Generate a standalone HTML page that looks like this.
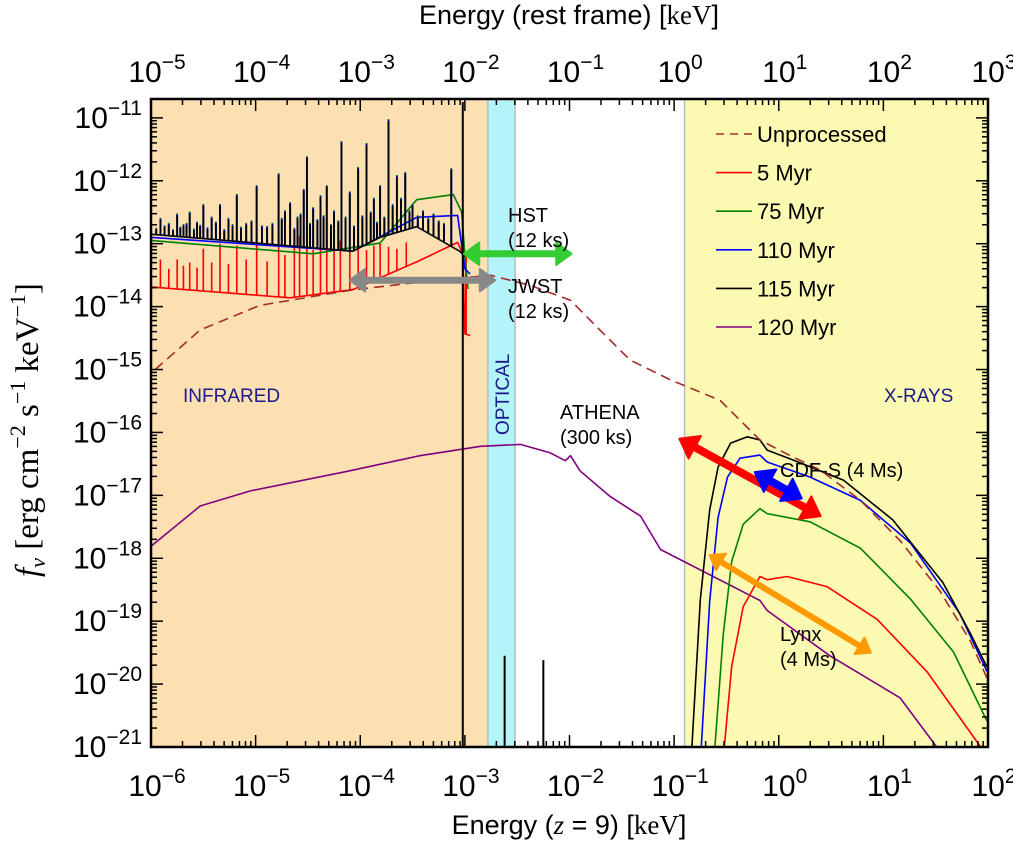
<!DOCTYPE html>
<html><head><meta charset="utf-8">
<style>
html,body{margin:0;padding:0;background:#fff;}
svg{display:block;font-family:"Liberation Sans","DejaVu Sans",sans-serif;}
</style></head>
<body>
<svg id="chart" width="1013" height="844" viewBox="0 0 1013 844" xmlns="http://www.w3.org/2000/svg">
<g id="bg"></g>
<g id="curves"></g>
<g id="annots"></g>
<g id="axes"></g>
<g id="legend"></g>
</svg>
<script>
// ---- data (log10 energy [keV, z=9], log10 f_nu) ----
const unprocE = [-5.96,-5.53,-4.96,-4.10,-3.43,-2.76,-2.38,-1.99,-1.71,-1.42,-1.04,-0.56,-0.18,0.11,0.40,0.78,1.16,1.54,1.83,2.0];
const unprocF = [-15.0,-14.37,-13.98,-13.74,-13.61,-13.50,-13.66,-13.90,-14.37,-14.85,-15.16,-15.49,-16.12,-16.37,-16.60,-17.08,-17.72,-18.52,-19.31,-19.94];

const m120E = [-6,-5.53,-5.05,-4.10,-3.43,-2.85,-2.47,-2.19,-2.04,-1.99,-1.90,-1.61,-1.32,-1.13,-0.18,-0.11,0.49,1.16,1.51];
const m120F = [-17.81,-17.17,-16.93,-16.61,-16.37,-16.22,-16.19,-16.32,-16.45,-16.37,-16.61,-17.02,-17.33,-17.86,-18.67,-18.83,-19.55,-20.22,-21];

const m115XE = [-0.83,-0.75,-0.66,-0.58,-0.46,-0.30,-0.18,-0.11,0.14,0.62,1.09,1.57,1.83,1.99];
const m115XF = [-21,-18.66,-17.23,-16.55,-16.17,-16.07,-16.12,-16.28,-16.44,-16.76,-17.39,-18.39,-19.19,-19.73];
const m110XE = [-0.74,-0.66,-0.58,-0.49,-0.37,-0.18,-0.11,0.30,0.78,1.26,1.73,1.99];
const m110XF = [-21,-18.68,-17.35,-16.71,-16.41,-16.36,-16.47,-16.71,-17.08,-17.76,-18.88,-19.80];
const m75XE = [-0.61,-0.53,-0.45,-0.34,-0.18,-0.11,0.30,0.78,1.26,1.67,1.99];
const m75XF = [-21,-19.20,-18.05,-17.46,-17.21,-17.29,-17.42,-17.84,-18.65,-19.49,-20.59];
const m5XE = [-0.52,-0.45,-0.34,-0.18,-0.11,0.08,0.46,0.94,1.42,1.93];
const m5XF = [-21,-19.72,-18.77,-18.29,-18.34,-18.29,-18.45,-18.97,-19.81,-21];

// infrared / optical continua
const blackIRE = [-5.99,-4.07,-3.81,-3.46,-3.05,-3.00];
const blackIRF = [-12.85,-13.12,-12.90,-12.73,-13.12,-13.20];
const blueIRE = [-5.99,-4.07,-3.46,-3.07,-3.00,-2.95];
const blueIRF = [-12.90,-13.12,-12.58,-12.55,-13.40,-13.48];
const greenIRE = [-5.99,-4.45,-3.81,-3.46,-3.11,-3.03,-3.00,-2.97];
const greenIRF = [-12.95,-13.16,-12.99,-12.30,-12.22,-12.50,-13.19,-13.72];
const redIRE = [-5.99,-4.67,-4.07,-3.46,-3.07,-3.02,-3.00,-2.95];
const redIRF = [-13.69,-13.86,-13.73,-13.29,-12.98,-13.16,-14.43,-14.46];

// emission line peaks
const lineE = [-5.91,-5.83,-5.75,-5.69,-5.63,-5.56,-5.50,-5.42,-5.34,-5.26,-5.18,-5.09,-4.99,-4.89,-4.78,-4.72,-4.67,-4.60,-4.54,-4.51,-4.45,-4.38,-4.32,-4.25,-4.18,-4.10,-4.02,-3.94,-3.87,-3.81,-3.73,-3.65,-3.57,-3.50,-3.40,-3.30,-3.13,
 -5.95,-5.87,-5.79,-5.72,-5.66,-5.59,-5.53,-5.46,-5.38,-5.30,-5.22,-5.14,-5.04,-4.94,-4.84,-4.75,-4.63,-4.57,-4.48,-4.41,-4.35,-4.28,-4.21,-4.14,-4.06,-3.98,-3.90,-3.84,-3.77,-3.69,-3.61,-3.53,-3.45,-3.35,-3.25,-3.20];
const lineF = [-12.62,-12.70,-12.55,-12.72,-12.52,-12.68,-12.40,-12.60,-12.40,-12.62,-12.24,-12.70,-12.10,-12.75,-11.91,-12.50,-12.37,-12.60,-12.16,-11.64,-12.45,-12.26,-12.10,-12.50,-11.40,-12.20,-11.81,-11.43,-12.30,-12.10,-11.05,-11.94,-11.89,-12.40,-12.50,-12.55,-11.83,
 -12.78,-12.74,-12.80,-12.76,-12.70,-12.79,-12.73,-12.77,-12.68,-12.80,-12.72,-12.76,-12.66,-12.74,-12.70,-12.62,-12.78,-12.55,-12.70,-12.64,-12.58,-12.72,-12.66,-12.60,-12.74,-12.58,-12.52,-12.68,-12.60,-12.40,-12.30,-12.50,-12.58,-12.62,-12.66,-12.70];
const redLineE = [-5.91,-5.75,-5.63,-5.50,-5.34,-5.18,-4.99,-4.78,-4.58,-4.51,-4.32,-4.19,-3.87,-3.65,-3.56,
 -5.83,-5.69,-5.56,-5.42,-5.26,-5.09,-4.89,-4.72,-4.63,-4.45,-4.38,-4.25,-4.10,-4.02,-3.94,-3.81,-3.73];
const redLineF = [-13.25,-13.25,-13.30,-13.08,-13.00,-13.03,-12.87,-12.92,-12.87,-12.81,-12.87,-12.95,-13.03,-13.08,-12.98,
 -13.40,-13.35,-13.38,-13.30,-13.32,-13.25,-13.28,-13.18,-13.05,-13.10,-13.00,-13.08,-13.12,-13.05,-13.10,-13.00,-13.05];

const xTicksBottom = [-6,-5,-4,-3,-2,-1,0,1,2];
const xTicksTop = [-5,-4,-3,-2,-1,0,1,2,3];
const yTicks = [-11,-12,-13,-14,-15,-16,-17,-18,-19,-20,-21];

const legendNames = ["Unprocessed","5 Myr","75 Myr","110 Myr","115 Myr","120 Myr"];
const legendColors = ["#a52a2a","#ff0000","#008000","#0000ff","#000000","#800080"];

// ---- scales ----
const L=151,R=988,T=99,B=747;
const X0=-6,X1=2,Y0=-21,Y1=-10.70;
function sx(v){return L+(v-X0)/(X1-X0)*(R-L);}
function sy(v){return B-(v-Y0)/(Y1-Y0)*(B-T);}
const NS="http://www.w3.org/2000/svg";
function mk(tag,attrs,parent){const e=document.createElementNS(NS,tag);for(const k in attrs)e.setAttribute(k,attrs[k]);parent.appendChild(e);return e;}
const bg=document.getElementById('bg'),cv=document.getElementById('curves'),an=document.getElementById('annots'),ax=document.getElementById('axes'),lg=document.getElementById('legend');

const regions=[[X0,-2.78,"#fde0b2","infrared-band"],[-2.78,-2.52,"#b2f4f8","optical-band"],[-2.52,-0.9,"#ffffff","uv-band"],[-0.9,X1,"#fcf9b2","xray-band"]];
regions.forEach(r=>{
 const e=mk('rect',{x:sx(r[0]),y:T,width:sx(r[1])-sx(r[0]),height:B-T,fill:r[2]},bg);
 
 
});
[-2.78,-2.52,-0.9].forEach(v=>{
 const e=mk('line',{x1:sx(v),x2:sx(v),y1:T,y2:B,stroke:"#bbbbbb","stroke-width":1.5},bg);
 
 
});

function path(E,F,color,w,name,dash){
 let d="";E.forEach((e,i)=>{d+=(i?"L":"M")+sx(e).toFixed(1)+","+sy(F[i]).toFixed(1);});
 const p=mk('path',{d:d,fill:"none",stroke:color,"stroke-width":w,"stroke-linejoin":"round"},cv);
 if(dash)p.setAttribute('stroke-dasharray',dash);
 
 
 return p;
}
function interp(E,F,e){for(let i=0;i<E.length-1;i++){if(e>=E[i]&&e<=E[i+1]){const t=(e-E[i])/(E[i+1]-E[i]);return F[i]+t*(F[i+1]-F[i]);}}return F[0];}

path(m120E,m120F,"#800080",1.6,"series-120myr");
path(redIRE,redIRF,"#ff0000",1.6,"series-5myr-ir");
redLineE.forEach((e,i)=>{
 const l=mk('line',{x1:sx(e),x2:sx(e),y1:sy(interp(redIRE,redIRF,e)),y2:sy(redLineF[i]),stroke:"#ff0000","stroke-width":1.6},cv);
 
 
});
const rv=mk('line',{x1:sx(-2.99),x2:sx(-2.99),y1:sy(-14.45),y2:sy(-13.2),stroke:"#ff0000","stroke-width":2},cv);


path(greenIRE,greenIRF,"#008000",1.6,"series-75myr-ir");
path(blueIRE,blueIRF,"#0000ff",1.6,"series-110myr-ir");
path(blackIRE,blackIRF,"#000000",1.6,"series-115myr-ir");
lineE.forEach((e,i)=>{
 const base=sy(interp(blackIRE,blackIRF,e));
 const g=mk('line',{x1:sx(e),x2:sx(e),y1:base,y2:sy(lineF[i])-2,stroke:"#008000","stroke-width":1.8},cv);
 
 
 const b=mk('line',{x1:sx(e),x2:sx(e),y1:base,y2:sy(lineF[i])-1,stroke:"#0000ff","stroke-width":1.8},cv);
 
 
 const k=mk('line',{x1:sx(e),x2:sx(e),y1:base,y2:sy(lineF[i]),stroke:"#000000","stroke-width":1.8},cv);
 
 
});
[[-3.02,-21,-10.75],[-2.62,-21,-19.55],[-2.25,-21,-19.62]].forEach(v=>{
 const l=mk('line',{x1:sx(v[0]),x2:sx(v[0]),y1:sy(v[1]),y2:sy(v[2]),stroke:"#000","stroke-width":2},cv);
 
 
});
path(m5XE,m5XF,"#ff0000",1.6,"series-5myr-xray");
path(m75XE,m75XF,"#008000",1.6,"series-75myr-xray");
path(m110XE,m110XF,"#0000ff",1.6,"series-110myr-xray");
path(m115XE,m115XF,"#000000",1.6,"series-115myr-xray");
path(unprocE,unprocF,"#a52a2a",1.6,"series-unprocessed","10,6");

function darrow(e1,f1,e2,f2,color,w,name){
 const x1=sx(e1),y1=sy(f1),x2=sx(e2),y2=sy(f2);
 const g=mk('g',{},an);
 
 
 const dx=x2-x1,dy=y2-y1,len=Math.hypot(dx,dy),ux=dx/len,uy=dy/len,hl=w*2.2,hw=w*1.6;
 mk('line',{x1:x1+ux*hl*0.8,y1:y1+uy*hl*0.8,x2:x2-ux*hl*0.8,y2:y2-uy*hl*0.8,stroke:color,"stroke-width":w},g);
 [[x1,y1,1],[x2,y2,-1]].forEach(p=>{
  const bx=p[0]+ux*hl*p[2],by=p[1]+uy*hl*p[2];
  mk('polygon',{points:`${p[0]},${p[1]} ${bx-uy*hw},${by+ux*hw} ${bx+uy*hw},${by-ux*hw}`,fill:color,stroke:color,"stroke-width":2,"stroke-linejoin":"round"},g);
 });
}
darrow(-3.01,-13.16,-1.98,-13.16,"#33cc33",7,"hst-arrow");
darrow(-4.10,-13.58,-2.71,-13.58,"#888888",7,"jwst-arrow");
darrow(-0.95,-16.10,0.40,-17.33,"#ff0000",8,"cdfs-red-arrow");
darrow(-0.23,-16.63,0.22,-17.05,"#0000ff",8,"cdfs-blue-arrow");
darrow(-0.66,-17.95,0.88,-19.50,"#ff9900",6,"lynx-arrow");

function txt(x,y,s,opts,parent,name){
 const t=mk('text',Object.assign({x:x,y:y,"font-size":20,fill:"#000"},opts||{}),parent);
 t.textContent=s;
 
 
 return t;
}
txt(508,222,"HST",{},an,"hst-label");
txt(508,247,"(12 ks)",{},an,"hst-time");
txt(508,293,"JWST",{},an,"jwst-label");
txt(508,318,"(12 ks)",{},an,"jwst-label-time");
txt(560,419,"ATHENA",{},an,"athena-label");
txt(560,444,"(300 ks)",{},an,"athena-time");
txt(780,477,"CDF-S (4 Ms)",{},an,"cdfs-label");
txt(780,641,"Lynx",{},an,"lynx-label");
txt(780,666,"(4 Ms)",{},an,"lynx-time");
txt(183,402,"INFRARED",{fill:"#1a1a8c","font-size":19},an,"infrared-label");
txt(884,402,"X-RAYS",{fill:"#1a1a8c","font-size":19},an,"xrays-label");
txt(0,0,"OPTICAL",{fill:"#1a1a8c","font-size":19,transform:"translate(509,435) rotate(-90)"},an,"optical-label");

const fr=mk('rect',{x:L,y:T,width:R-L,height:B-T,fill:"none",stroke:"#000","stroke-width":2.5},ax);


function tick(x1,y1,x2,y2,w){mk('line',{x1:x1,y1:y1,x2:x2,y2:y2,stroke:"#000","stroke-width":w},ax);}
for(let d=X0;d<X1;d++){for(let m=1;m<10;m++){const x=sx(d+Math.log10(m));const len=m==1?12:6;tick(x,B,x,B-len,1.5);tick(x,T,x,T+len,1.5);}}
for(let d=Y0;d<Y1;d++){for(let m=1;m<10;m++){const v=d+Math.log10(m);if(v>Y1)continue;const y=sy(v);const len=m==1?12:6;tick(L,y,L+len,y,1.5);tick(R,y,R-len,y,1.5);}}
function pow(x,y,anchor,exp,name){
 const t=mk('text',{x:x,y:y,"font-size":30,"text-anchor":anchor,fill:"#000"},ax);
 
 
 const a=mk('tspan',{},t);a.textContent="10";
 const b=mk('tspan',{"font-size":21,dy:-13},t);b.textContent=(exp<0?"\u2212"+(-exp):String(exp));
 return t;
}
xTicksBottom.forEach(v=>{pow(sx(v)+6,796,"middle",v,"x-tick-label");});
xTicksTop.forEach((v,i)=>{pow(sx(xTicksBottom[i])+6,82,"middle",v,"x-top-tick-label");});
yTicks.forEach(v=>{pow(142,sy(v)+10,"end",v,"y-tick-label");});

const xt=mk('text',{x:569,y:834,"font-size":27,"text-anchor":"middle",fill:"#000"},ax);


xt.innerHTML='Energy (<tspan font-family="Liberation Serif" font-style="italic">z</tspan> = 9) [<tspan font-family="Liberation Serif">keV</tspan>]';
const tt=mk('text',{x:569,y:24,"font-size":27,"text-anchor":"middle",fill:"#000"},ax);


tt.innerHTML='Energy (rest frame) [<tspan font-family="Liberation Serif">keV</tspan>]';
const yt=mk('text',{x:0,y:0,"font-size":33,"text-anchor":"middle",fill:"#000",transform:"translate(38,430) rotate(-90)","font-family":"Liberation Serif"},ax);


yt.innerHTML='<tspan font-style="italic">f</tspan><tspan font-style="italic" font-size="22" dy="7">ν</tspan><tspan dy="-7"> [erg cm</tspan><tspan font-size="22" dy="-13">−2</tspan><tspan dy="13"> s</tspan><tspan font-size="22" dy="-13">−1</tspan><tspan dy="13"> keV</tspan><tspan font-size="22" dy="-13">−1</tspan><tspan dy="13">]</tspan>';

legendNames.forEach((n,i)=>{
 const y=134+i*38.6;
 const g=mk('g',{},lg);
 
 
 const l=mk('line',{x1:716,x2:752,y1:y,y2:y,stroke:legendColors[i],"stroke-width":1.6},g);
 if(i===0)l.setAttribute('stroke-dasharray','8,6');
 const t=mk('text',{x:757,y:y+8,"font-size":22,fill:"#000"},g);
 t.textContent=n;
});
</script>
</body></html>
